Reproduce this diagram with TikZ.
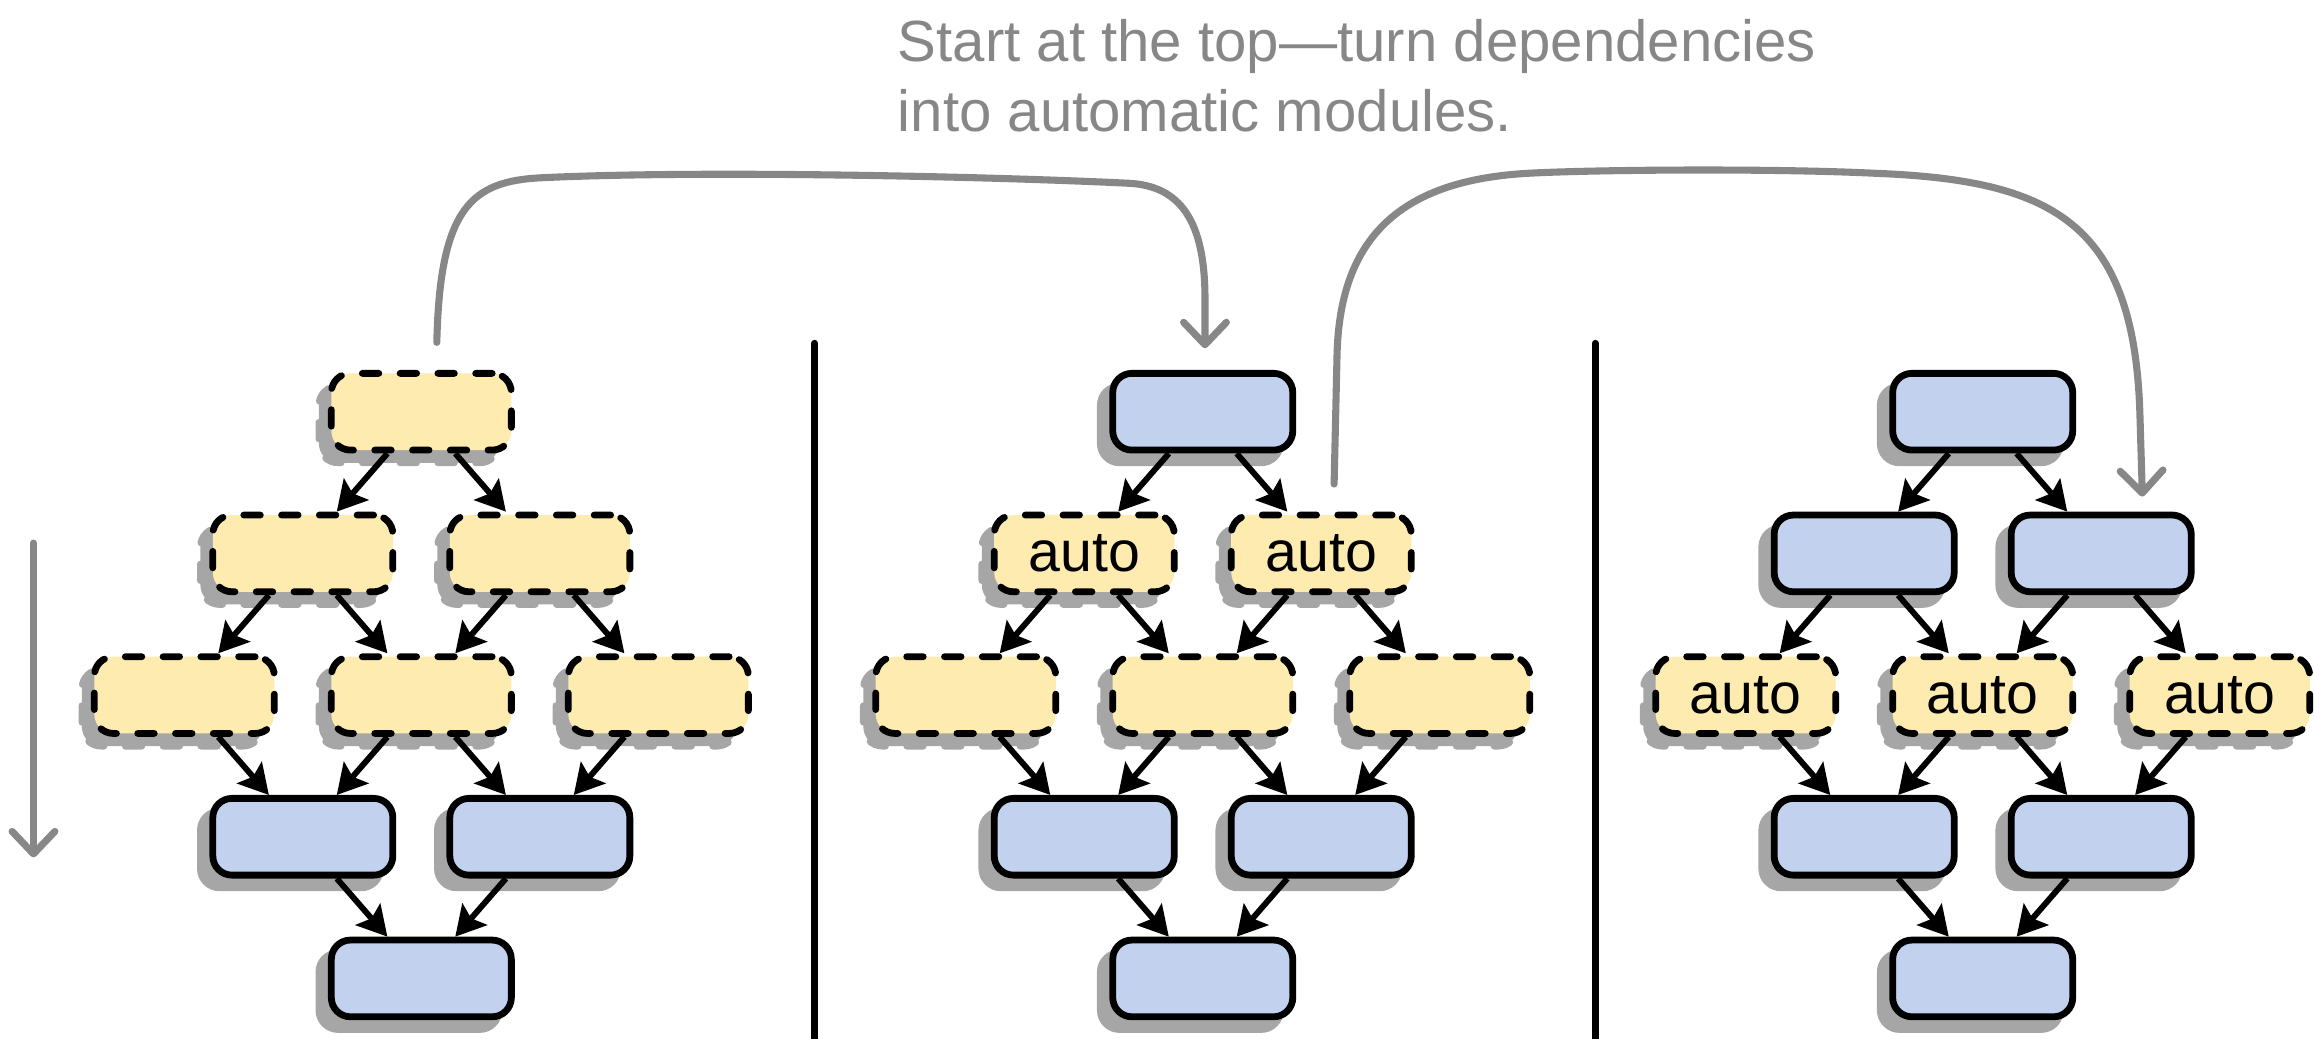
\documentclass[tikz,border=0pt]{standalone}
\usepackage{fontspec}
\setmainfont{Liberation Sans}
\usetikzlibrary{arrows.meta,calc}
\definecolor{yel}{HTML}{FEEBB0}
\definecolor{blu}{HTML}{C1D1EE}
\definecolor{shd}{HTML}{A6A6A6}
\definecolor{gry}{HTML}{878787}
\tikzset{
  modbase/.style={rectangle, rounded corners=6.5pt, minimum width=61pt, minimum height=26pt,
    inner sep=0pt, line width=2.3pt, draw=black, text=black, font=\fontsize{19.4}{23}\selectfont,
    preaction={draw=shd, fill=shd, transform canvas={xshift=-4.2pt, yshift=-4.3pt}}},
  ymod/.style={modbase, fill=yel, dash pattern=on 5.6pt off 7.2pt, line cap=round},
  bmod/.style={modbase, fill=blu},
  dep/.style={-{Stealth[length=10pt,width=11pt,inset=1.8pt]}, line width=2pt},
  flow/.style={draw=gry, line width=2.4pt, -{Straight Barb[length=7.6pt,width=14.5pt,round]}},
  divider/.style={line width=2.2pt, line cap=round},
  titletext/.style={anchor=base west, inner sep=0pt, text=gry, font=\fontsize{19.7}{23}\selectfont},
}
\newcommand\moddiagram[7]{%
  \node[#3] (#1t) at (#2,279) {};
  \node[#4] (#1a) at ({#2-80.3},375) {#5};
  \node[#4] (#1b) at ({#2+80.3},375) {#5};
  \node[#6] (#1c) at ({#2-160.6},471) {#7};
  \node[#6] (#1d) at (#2,471) {#7};
  \node[#6] (#1e) at ({#2+160.6},471) {#7};
  \node[bmod] (#1f) at ({#2-80.3},567) {};
  \node[bmod] (#1g) at ({#2+80.3},567) {};
  \node[bmod] (#1h) at (#2,663) {};
  \foreach \p/\c in {t/a,a/c,b/d,d/f,e/g,g/h}
    \draw[dep] ($(#1\p.south)+(-23,0)$) -- ($(#1\c.north)+(23,0)$);
  \foreach \p/\c in {t/b,a/d,b/e,c/f,d/g,f/h}
    \draw[dep] ($(#1\p.south)+(23,0)$) -- ($(#1\c.north)+(-23,0)$);
}
\begin{document}
\begin{tikzpicture}[x=0.5pt,y=-0.5pt]
\useasboundingbox (0,0) rectangle (1568,704);

\node[titletext] (title1) at (608,41.8) {Start at the top—turn dependencies};
\node[titletext] (title2) at (608,89.2) {into automatic modules.};

\moddiagram{A}{285.5}{ymod}{ymod}{}{ymod}{}
\moddiagram{B}{815}{bmod}{ymod}{auto}{ymod}{}
\moddiagram{C}{1343.5}{bmod}{bmod}{}{ymod}{auto}

% dividers
\coordinate (d1t) at (552,232.5);
\coordinate (d1b) at (552,704);
\coordinate (d2t) at (1081,232.5);
\coordinate (d2b) at (1081,704);
\draw[divider] (d1t) -- (d1b);
\draw[divider] (d2t) -- (d2b);

% left flow arrow
\coordinate (fs) at (22.7,368);
\coordinate (fe) at (22.7,581);
\draw[flow, line cap=round] (fs) -- (fe);

% curved arrow 1
\coordinate (c1s) at (296,232);
\coordinate (c1e) at (816.5,236);
\draw[flow, line cap=round] (c1s) .. controls (298,140) and (320,123) .. (366,120.5)
   .. controls (480,115) and (680,120) .. (765,124.2)
   .. controls (800,126) and (816,150) .. (816.5,200) -- (c1e);

% curved arrow 2
\coordinate (c2s) at (904,328);
\coordinate (c2e) at (1451.7,336.5);
\draw[flow, line cap=round] (c2s) -- (906,240) .. controls (908,160) and (950,122) .. (1036,117.4)
   .. controls (1080,115) and (1200,114) .. (1270,117.4)
   .. controls (1390,122) and (1446,150) .. (1450,280) -- (c2e);
\end{tikzpicture}
\end{document}
